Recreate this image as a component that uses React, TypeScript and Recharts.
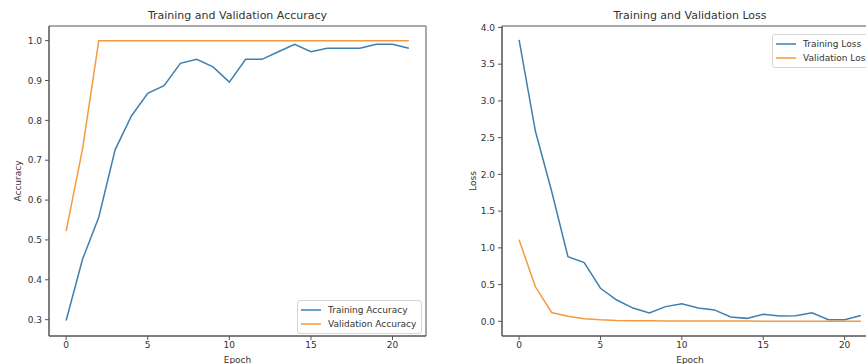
import { Label, Line, LineChart, ReferenceArea, XAxis, YAxis } from "recharts";

const epochs = [0, 1, 2, 3, 4, 5, 6, 7, 8, 9, 10, 11, 12, 13, 14, 15, 16, 17, 18, 19, 20, 21];

const trainAcc = [
  0.298, 0.451, 0.557, 0.726, 0.811, 0.868, 0.887, 0.943, 0.953, 0.934, 0.896,
  0.953, 0.953, 0.972, 0.991, 0.972, 0.981, 0.981, 0.981, 0.991, 0.991, 0.981,
];
const valAcc = [
  0.522, 0.727, 1.0, 1.0, 1.0, 1.0, 1.0, 1.0, 1.0, 1.0, 1.0,
  1.0, 1.0, 1.0, 1.0, 1.0, 1.0, 1.0, 1.0, 1.0, 1.0, 1.0,
];
const trainLoss = [
  3.83, 2.59, 1.77, 0.88, 0.8, 0.45, 0.29, 0.18, 0.115, 0.2, 0.24,
  0.18, 0.155, 0.06, 0.04, 0.095, 0.072, 0.075, 0.115, 0.022, 0.022, 0.078,
];
const valLoss = [
  1.11, 0.47, 0.12, 0.07, 0.035, 0.02, 0.01, 0.008, 0.006, 0.005, 0.004,
  0.004, 0.003, 0.003, 0.003, 0.002, 0.002, 0.002, 0.002, 0.002, 0.001, 0.001,
];

const epochTicks = [0, 5, 10, 15, 20];
const accTicks = [0.3, 0.4, 0.5, 0.6, 0.7, 0.8, 0.9, 1.0];
const lossTicks = [0, 0.5, 1.0, 1.5, 2.0, 2.5, 3.0, 3.5, 4.0];

const accData = epochs.map((e, i) => ({ epoch: e, train: trainAcc[i], val: valAcc[i] }));
const lossData = epochs.map((e, i) => ({ epoch: e, train: trainLoss[i], val: valLoss[i] }));

const X_DOMAIN: [number, number] = [-1.05, 22.05];
const BLUE = "#3d7fb0";
const ORANGE = "#f59a3c";
const FONT = "'DejaVu Sans', sans-serif";
const TEXT = "#333";
const SPINE = "#555";

const tickStyle = { fontSize: 9, fill: TEXT, fontFamily: FONT };

function LegendBox({ items, left, top, width }: { items: { label: string; color: string }[]; left: number; top: number; width: number }) {
  return (
    <div
      style={{
        position: "absolute",
        left,
        top,
        width,
        boxSizing: "border-box",
        border: "1px solid #d6d6d6",
        borderRadius: 3,
        background: "rgba(255,255,255,0.85)",
        padding: "2px 0",
        fontFamily: FONT,
        fontSize: 9,
        color: TEXT,
        whiteSpace: "nowrap",
      }}
    >
      {items.map((it) => (
        <div key={it.label} style={{ height: 14, display: "flex", alignItems: "center" }}>
          <svg width={30} height={14} style={{ flex: "none" }}>
            <line x1={3} x2={23} y1={7} y2={7} stroke={it.color} strokeWidth={1.5} />
          </svg>
          <span>{it.label}</span>
        </div>
      ))}
    </div>
  );
}

function Title({ text, left, width }: { text: string; left: number; width: number }) {
  return (
    <div
      style={{
        position: "absolute",
        left,
        top: 9,
        width,
        textAlign: "center",
        fontFamily: FONT,
        fontSize: 11,
        color: TEXT,
        whiteSpace: "nowrap",
      }}
    >
      {text}
    </div>
  );
}

function Panel({
  data,
  yDomain,
  yTicks,
  yLabel,
  yAxisWidth,
  labelOffset,
  width,
  left,
}: {
  data: { epoch: number; train: number; val: number }[];
  yDomain: [number, number];
  yTicks: number[];
  yLabel: string;
  yAxisWidth: number;
  labelOffset: number;
  width: number;
  left: number;
}) {
  return (
    <div style={{ position: "absolute", left, top: 0 }}>
      <LineChart width={width} height={364} data={data} margin={{ top: 26, right: 14, left: 0, bottom: 0 }}>
        <XAxis
          dataKey="epoch"
          type="number"
          domain={X_DOMAIN}
          ticks={epochTicks}
          allowDataOverflow
          height={28}
          tickSize={4}
          tickMargin={2}
          tick={tickStyle}
          axisLine={{ stroke: SPINE }}
          tickLine={{ stroke: SPINE }}
        >
          <Label value="Epoch" position="insideBottom" offset={1} style={{ fontSize: 9, fill: TEXT, fontFamily: FONT }} />
        </XAxis>
        <YAxis
          type="number"
          domain={yDomain}
          ticks={yTicks}
          allowDataOverflow
          width={yAxisWidth}
          tickSize={4}
          tickMargin={3}
          tick={tickStyle}
          tickFormatter={(v: number) => v.toFixed(1)}
          axisLine={{ stroke: SPINE }}
          tickLine={{ stroke: SPINE }}
        >
          <Label
            value={yLabel}
            angle={-90}
            position="insideLeft"
            offset={labelOffset}
            style={{ textAnchor: "middle", fontSize: 9, fill: TEXT, fontFamily: FONT }}
          />
        </YAxis>
        <ReferenceArea
          x1={X_DOMAIN[0]}
          x2={X_DOMAIN[1]}
          y1={yDomain[0]}
          y2={yDomain[1]}
          fill="none"
          fillOpacity={0}
          stroke={SPINE}
          strokeWidth={1}
          ifOverflow="visible"
        />
        <Line type="linear" dataKey="train" stroke={BLUE} strokeWidth={1.5} dot={false} isAnimationActive={false} />
        <Line type="linear" dataKey="val" stroke={ORANGE} strokeWidth={1.5} dot={false} isAnimationActive={false} />
      </LineChart>
    </div>
  );
}

export default function App() {
  return (
    <div
      style={{
        position: "absolute",
        left: 0,
        top: 0,
        width: 866,
        height: 364,
        overflow: "hidden",
        background: "#fff",
      }}
    >
      <Panel
        data={accData}
        yDomain={[0.259, 1.0367]}
        yTicks={accTicks}
        yLabel="Accuracy"
        yAxisWidth={49}
        labelOffset={18}
        width={440}
        left={0}
      />
      <Panel
        data={lossData}
        yDomain={[-0.2, 4.02]}
        yTicks={lossTicks}
        yLabel="Loss"
        yAxisWidth={62}
        labelOffset={33}
        width={452}
        left={440}
      />
      <Title text="Training and Validation Accuracy" left={49} width={377} />
      <Title text="Training and Validation Loss" left={502} width={376} />
      <LegendBox
        left={297}
        top={300}
        width={125}
        items={[
          { label: "Training Accuracy", color: BLUE },
          { label: "Validation Accuracy", color: ORANGE },
        ]}
      />
      <LegendBox
        left={772}
        top={34}
        width={104}
        items={[
          { label: "Training Loss", color: BLUE },
          { label: "Validation Loss", color: ORANGE },
        ]}
      />
    </div>
  );
}
